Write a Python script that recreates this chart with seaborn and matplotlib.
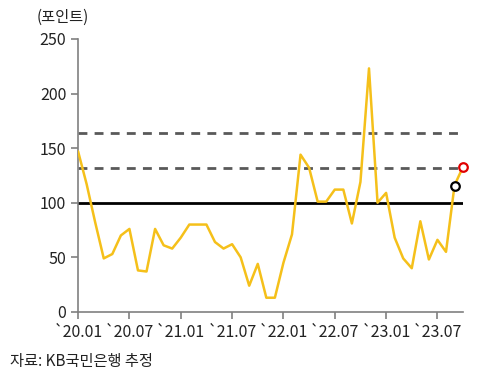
import numpy as np
import pandas as pd
import matplotlib.pyplot as plt
import seaborn as sns

### DATA ###

months = pd.date_range('2020-01-01', '2023-10-01', freq='MS').strftime('%y.%m').tolist()
index_vals = [147, 117, 82, 49, 53, 70, 76, 38, 37, 76, 61, 58,
              68, 80, 80, 80, 64, 58, 62, 50, 24, 44, 13, 13,
              45, 71, 144, 132, 101, 101, 112, 112, 81, 119, 223, 100,
              109, 68, 49, 40, 83, 48, 66, 55, 116, 133]
tick_months = ['20.01', '20.07', '21.01', '21.07', '22.01', '22.07', '23.01', '23.07']
tick_labels = ['`' + m for m in tick_months]
ref_levels = [164, 132]
base_level = 100
prev_month, prev_val = '23.09', 115
last_month, last_val = '23.10', 133

df = pd.DataFrame({'month': months, 'value': index_vals})
df['pos'] = range(len(df))

### PLOT ###

sns.set_style('white')
plt.rcParams['font.family'] = ['Noto Sans CJK KR', 'DejaVu Sans']

fig = plt.figure(figsize=(4.88, 3.74), dpi=100)
ax = fig.add_axes([0.16, 0.166, 0.789, 0.730])

for lvl in ref_levels:
	ax.axhline(lvl, xmin=0, xmax=0.987, color='#595959', lw=2, ls=(0, (3.2, 2.6)), zorder=1)
ax.axhline(base_level, color='black', lw=2, zorder=2)

sns.lineplot(data=df, x='pos', y='value', color='#F5C01A', lw=1.8, ax=ax, zorder=3)

pos_of = dict(zip(df['month'], df['pos']))
ax.scatter([pos_of[prev_month]], [prev_val], s=38, facecolor='white', edgecolor='black',
	lw=1.6, zorder=4, clip_on=False)
ax.scatter([pos_of[last_month]], [last_val], s=38, facecolor='white', edgecolor='#E00000',
	lw=1.6, zorder=4, clip_on=False)

ax.set_xlim(0, len(df) - 1)
ax.set_ylim(0, 250)
ax.set_yticks(range(0, 251, 50))
ax.set_xticks([pos_of[m] for m in tick_months])
ax.set_xticklabels(tick_labels)
ax.set_xlabel('')
ax.set_ylabel('')

for side in ['top', 'right']:
	ax.spines[side].set_visible(False)
for side in ['left', 'bottom']:
	ax.spines[side].set_color('#808080')
	ax.spines[side].set_linewidth(1.2)
ax.tick_params(axis='both', which='both', direction='out', length=5, width=1.2,
	color='#808080', labelsize=11.5, labelcolor='#222222', left=True, bottom=True)
ax.tick_params(axis='x', pad=4)

fig.text(0.075, 0.955, '(포인트)', fontsize=11, color='#222222', ha='left', va='center')
fig.text(0.02, 0.033, '자료: KB국민은행 추정', fontsize=11, color='#222222', ha='left', va='center')

plt.savefig('out.png', dpi=100)
